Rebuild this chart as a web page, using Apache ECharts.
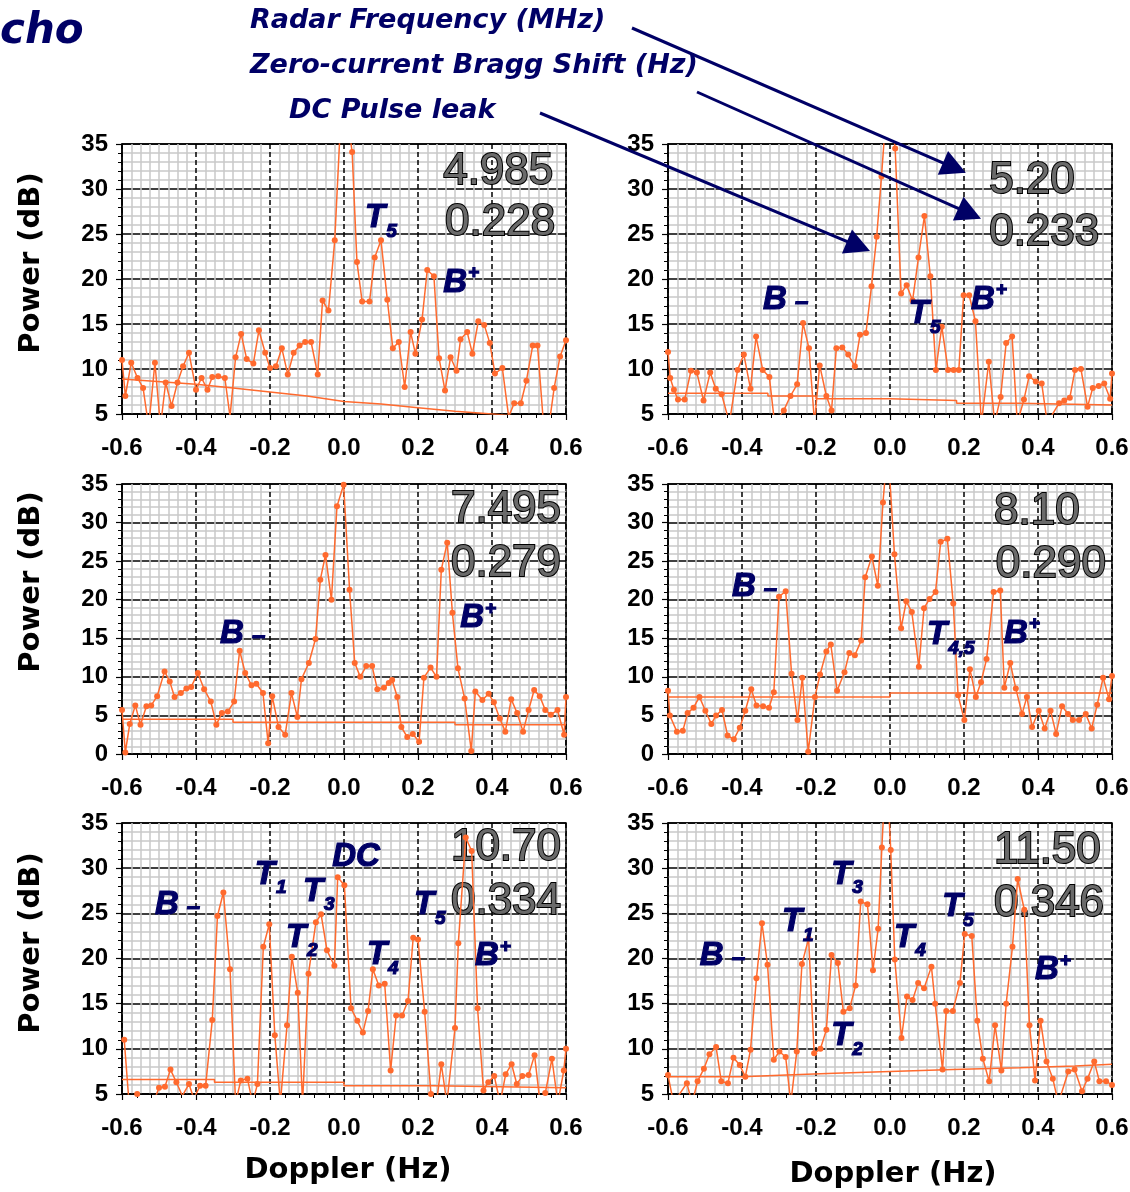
<!DOCTYPE html>
<html>
<head>
<meta charset="utf-8">
<title>Doppler spectra</title>
<script src="https://cdn.jsdelivr.net/npm/echarts@6.0.0/dist/echarts.min.js"></script>
<style>
  html, body { margin: 0; padding: 0; background: #fff; }
  #chart { width: 1130px; height: 1192px; }
</style>
</head>
<body>
<div id="chart"></div>
<script>
// ---------- data: Doppler (Hz) / power (dB) pairs for each radar frequency ----------
const spec4985 = [[-0.600,11.0],[-0.591,7.0],[-0.575,10.7],[-0.558,9.0],[-0.543,7.9],[-0.528,3.6],[-0.511,10.7],[-0.496,3.6],[-0.482,8.5],[-0.466,5.9],[-0.450,8.5],[-0.435,10.3],[-0.419,11.8],[-0.400,7.7],[-0.385,9.0],[-0.369,7.7],[-0.356,9.1],[-0.340,9.2],[-0.322,9.0],[-0.308,4.7],[-0.293,11.3],[-0.278,13.9],[-0.263,11.1],[-0.245,10.6],[-0.230,14.3],[-0.213,11.8],[-0.200,10.1],[-0.184,10.3],[-0.168,12.3],[-0.152,9.4],[-0.136,11.8],[-0.120,12.6],[-0.105,13.0],[-0.089,13.0],[-0.071,9.4],[-0.058,17.6],[-0.042,16.5],[-0.025,24.3],[-0.004,42.0],[0.022,34.1],[0.035,21.9],[0.049,17.5],[0.069,17.5],[0.083,22.4],[0.100,24.3],[0.117,17.7],[0.132,12.3],[0.148,13.0],[0.164,8.0],[0.180,14.1],[0.193,11.7],[0.211,15.5],[0.225,21.0],[0.243,20.3],[0.257,11.2],[0.273,7.6],[0.288,11.3],[0.304,9.8],[0.315,13.3],[0.333,14.1],[0.347,11.7],[0.363,15.3],[0.379,14.9],[0.394,12.9],[0.408,9.5],[0.428,10.1],[0.445,4.7],[0.460,6.2],[0.478,6.2],[0.493,8.7],[0.510,12.6],[0.523,12.6],[0.539,4.0],[0.555,4.0],[0.568,7.9],[0.584,11.4],[0.600,13.2]];
const floor4985 = [[-0.6,8.9],[-0.4,8.3],[-0.3,7.9],[-0.1,7.0],[0.0,6.4],[0.1,6.1],[0.2,5.7],[0.3,5.3],[0.4,5.0],[0.6,4.3]];

const spec520 = [[-0.600,11.9],[-0.594,9.0],[-0.584,7.7],[-0.573,6.6],[-0.555,6.6],[-0.538,9.8],[-0.522,9.6],[-0.504,6.5],[-0.486,9.6],[-0.471,7.8],[-0.455,7.2],[-0.434,4.0],[-0.412,9.9],[-0.395,11.6],[-0.377,7.8],[-0.362,13.6],[-0.344,9.9],[-0.326,9.1],[-0.312,4.0],[-0.287,5.4],[-0.269,7.0],[-0.251,8.3],[-0.235,15.1],[-0.219,12.3],[-0.204,4.0],[-0.190,10.4],[-0.172,7.0],[-0.158,5.4],[-0.145,12.3],[-0.129,12.4],[-0.113,11.6],[-0.095,10.3],[-0.081,13.8],[-0.065,14.0],[-0.050,19.2],[-0.036,24.7],[-0.023,31.4],[-0.006,41.0],[0.014,34.5],[0.030,18.4],[0.045,19.3],[0.061,17.6],[0.077,22.4],[0.093,27.0],[0.109,20.3],[0.124,9.9],[0.140,14.7],[0.157,9.9],[0.172,9.9],[0.186,9.9],[0.199,18.2],[0.214,18.2],[0.231,15.3],[0.247,4.0],[0.267,10.8],[0.283,4.0],[0.299,6.9],[0.314,12.9],[0.330,13.6],[0.344,4.0],[0.362,6.6],[0.376,9.2],[0.394,8.6],[0.410,8.4],[0.425,4.0],[0.457,6.2],[0.471,6.5],[0.486,6.8],[0.500,9.9],[0.516,10.0],[0.534,5.8],[0.548,7.9],[0.564,8.1],[0.579,8.4],[0.595,6.7],[0.600,9.5]];
const floor520 = [[-0.6,7.3],[-0.33,7.3],[-0.33,7.0],[-0.2,7.0],[-0.2,6.7],[0.0,6.7],[0.0,6.5],[0.18,6.5],[0.18,6.2],[0.35,6.2],[0.35,6.0],[0.6,6.0]];

const spec7495 = [[-0.600,5.7],[-0.591,0.2],[-0.579,3.9],[-0.564,6.3],[-0.550,3.8],[-0.534,6.2],[-0.521,6.3],[-0.505,7.5],[-0.485,10.7],[-0.471,9.4],[-0.458,7.4],[-0.441,7.9],[-0.426,8.5],[-0.413,8.7],[-0.395,10.5],[-0.378,8.4],[-0.360,6.8],[-0.345,3.8],[-0.330,5.3],[-0.314,5.5],[-0.297,6.8],[-0.282,13.4],[-0.267,10.5],[-0.250,8.9],[-0.237,9.1],[-0.219,7.9],[-0.205,1.4],[-0.194,7.5],[-0.177,3.5],[-0.159,2.5],[-0.142,7.9],[-0.126,4.8],[-0.115,9.7],[-0.095,11.8],[-0.077,14.9],[-0.064,22.6],[-0.050,25.8],[-0.034,20.0],[-0.019,32.1],[-0.001,34.9],[0.015,21.3],[0.029,11.8],[0.044,10.0],[0.060,11.4],[0.076,11.4],[0.090,8.4],[0.108,8.6],[0.121,9.2],[0.130,9.6],[0.144,7.4],[0.155,3.5],[0.171,2.2],[0.186,2.6],[0.203,1.6],[0.216,9.9],[0.234,11.2],[0.250,10.0],[0.263,23.9],[0.279,27.4],[0.293,18.3],[0.308,11.1],[0.326,7.2],[0.344,0.4],[0.355,8.1],[0.374,7.0],[0.391,7.8],[0.405,6.7],[0.421,4.6],[0.436,2.9],[0.452,7.1],[0.468,5.3],[0.484,2.9],[0.499,5.7],[0.514,8.3],[0.529,7.5],[0.544,5.7],[0.559,5.1],[0.577,5.7],[0.595,2.5],[0.600,7.4]];
const floor7495 = [[-0.6,4.5],[-0.3,4.5],[-0.3,4.1],[0.3,4.1],[0.3,3.8],[0.6,3.8]];

const spec810 = [[-0.600,8.2],[-0.595,5.0],[-0.576,2.9],[-0.560,3.0],[-0.547,5.3],[-0.531,6.0],[-0.515,7.4],[-0.499,5.6],[-0.483,3.9],[-0.470,5.0],[-0.454,5.7],[-0.439,2.4],[-0.422,1.9],[-0.406,3.4],[-0.391,5.6],[-0.375,8.4],[-0.361,6.3],[-0.343,6.2],[-0.327,6.0],[-0.314,8.0],[-0.300,20.4],[-0.282,21.1],[-0.266,10.4],[-0.250,4.4],[-0.237,9.9],[-0.221,0.3],[-0.203,7.4],[-0.189,10.3],[-0.172,13.3],[-0.160,14.2],[-0.143,8.2],[-0.123,10.6],[-0.110,13.1],[-0.095,12.8],[-0.078,14.7],[-0.067,22.9],[-0.049,25.6],[-0.033,21.8],[-0.019,32.6],[-0.006,40.0],[0.012,25.9],[0.030,16.3],[0.044,19.8],[0.059,18.4],[0.078,11.3],[0.092,18.9],[0.107,20.1],[0.123,21.0],[0.137,27.5],[0.155,27.9],[0.171,19.5],[0.184,7.6],[0.201,4.4],[0.216,11.0],[0.232,7.4],[0.246,9.3],[0.261,12.3],[0.280,21.0],[0.298,21.2],[0.309,8.6],[0.325,11.8],[0.340,8.5],[0.357,5.2],[0.370,7.4],[0.384,3.5],[0.402,5.6],[0.418,3.3],[0.434,5.6],[0.449,2.6],[0.465,6.2],[0.481,5.2],[0.494,4.4],[0.511,4.4],[0.529,5.2],[0.545,3.3],[0.560,6.4],[0.576,9.9],[0.592,7.1],[0.600,10.1]];
const floor810 = [[-0.6,7.4],[0.0,7.4],[0.0,7.9],[0.6,7.9]];

const spec1070 = [[-0.594,11.0],[-0.580,3.5],[-0.559,5.0],[-0.540,3.5],[-0.520,3.5],[-0.500,5.7],[-0.484,5.8],[-0.469,7.7],[-0.453,6.3],[-0.437,4.8],[-0.419,6.1],[-0.406,4.5],[-0.389,5.9],[-0.374,5.9],[-0.356,13.2],[-0.342,24.7],[-0.326,27.3],[-0.308,18.8],[-0.293,4.0],[-0.279,6.5],[-0.261,6.7],[-0.247,4.0],[-0.234,6.1],[-0.218,21.3],[-0.202,23.8],[-0.187,11.5],[-0.172,4.0],[-0.154,12.6],[-0.141,20.2],[-0.125,16.2],[-0.112,4.0],[-0.096,18.3],[-0.076,24.0],[-0.062,24.9],[-0.046,20.9],[-0.026,19.2],[-0.017,29.0],[0.001,28.1],[0.019,14.5],[0.036,13.1],[0.051,11.8],[0.065,14.2],[0.078,18.8],[0.094,17.0],[0.110,17.2],[0.126,7.6],[0.141,13.7],[0.157,13.7],[0.173,15.3],[0.187,22.3],[0.200,22.1],[0.218,14.1],[0.235,5.0],[0.250,4.0],[0.263,8.3],[0.278,4.0],[0.300,12.3],[0.309,21.7],[0.329,33.4],[0.345,31.9],[0.361,14.5],[0.377,5.4],[0.390,6.3],[0.406,7.0],[0.422,4.0],[0.437,7.2],[0.453,8.3],[0.467,6.1],[0.482,7.0],[0.499,7.1],[0.515,9.3],[0.530,4.0],[0.544,5.1],[0.562,8.9],[0.578,4.0],[0.594,7.6],[0.600,10.0]];
const floor1070 = [[-0.6,6.6],[-0.35,6.6],[-0.35,6.3],[0.0,6.3],[0.0,5.9],[0.24,5.9],[0.24,5.7],[0.6,5.7]];

const spec1150 = [[-0.600,7.1],[-0.585,4.0],[-0.549,6.2],[-0.535,4.0],[-0.520,6.4],[-0.503,7.8],[-0.488,9.4],[-0.470,10.2],[-0.456,6.4],[-0.438,6.2],[-0.423,9.0],[-0.406,8.2],[-0.391,6.9],[-0.377,9.9],[-0.361,17.8],[-0.346,23.9],[-0.331,19.3],[-0.314,8.8],[-0.299,9.7],[-0.282,9.1],[-0.268,4.0],[-0.252,9.7],[-0.238,19.4],[-0.220,22.2],[-0.205,9.5],[-0.188,10.0],[-0.172,12.1],[-0.158,20.4],[-0.141,19.5],[-0.126,14.1],[-0.109,14.5],[-0.093,17.0],[-0.079,26.3],[-0.061,26.0],[-0.046,18.7],[-0.032,23.3],[-0.022,32.3],[-0.010,42.0],[0.002,32.0],[0.013,19.9],[0.031,11.2],[0.046,15.8],[0.061,15.4],[0.076,17.3],[0.092,16.7],[0.112,19.1],[0.122,15.0],[0.142,7.7],[0.152,14.2],[0.170,14.2],[0.189,17.3],[0.202,22.7],[0.221,22.5],[0.236,13.1],[0.251,8.9],[0.268,6.4],[0.284,12.6],[0.301,7.6],[0.314,15.0],[0.331,21.3],[0.345,28.8],[0.363,25.4],[0.377,12.6],[0.392,6.5],[0.407,13.1],[0.423,8.6],[0.440,6.7],[0.455,4.0],[0.482,7.5],[0.499,7.7],[0.519,5.3],[0.534,6.7],[0.552,8.6],[0.566,6.4],[0.584,6.4],[0.600,6.0]];
const floor1150 = [[-0.6,6.9],[-0.4,6.9],[-0.4,7.1],[-0.28,7.1],[-0.28,7.3],[-0.15,7.3],[-0.15,7.5],[0.0,7.5],[0.0,7.7],[0.17,7.7],[0.17,7.9],[0.35,7.9],[0.35,8.1],[0.5,8.1],[0.5,8.3],[0.6,8.3]];

// radar frequency (MHz) and zero-current Bragg shift (Hz) printed in each panel
const radarMHz = ['4.985', '5.20', '7.495', '8.10', '10.70', '11.50'];
const braggHz  = ['0.228', '0.233', '0.279', '0.290', '0.334', '0.346'];

// peak tags per panel
const tags4985 = ['T5', 'B+'];
const tags520  = ['B-', 'T5', 'B+'];
const tags7495 = ['B-', 'B+'];
const tags810  = ['B-', 'T4,5', 'B+'];
const tags1070 = ['B-', 'T1', 'DC', 'T3', 'T2', 'T4', 'T5', 'B+'];
const tags1150 = ['B-', 'T1', 'T2', 'T3', 'T4', 'T5', 'B+'];

// axis ticks
const dopplerTicks = { min: -0.6, max: 0.6, step: 0.2 };
const powerTop = 35, powerStep = 5;
const powerBottoms = [5, 5, 0, 0, 5, 5];

// ---------- layout ----------
const NAVY = '#000066';
const ORANGE = '#ff6a2e';
const GRAY = '#c9c9c9';
const colLeft = [122, 668];
const rowBox = [{ top: 144, height: 270 }, { top: 484, height: 270 }, { top: 823, height: 271 }];
const plotWidth = 444;

// where each tag / printed number sits, in Doppler–power units of its panel
const tagAt = [
  [[0.057, 26.8], [0.268, 19.6]],
  [[-0.343, 17.7], [0.051, 16.1], [0.219, 17.7]],
  [[-0.335, 15.6], [0.314, 17.6]],
  [[-0.427, 21.7], [0.100, 15.4], [0.308, 15.6]],
  [[-0.511, 25.9], [-0.241, 29.3], [-0.032, 31.3], [-0.111, 27.4], [-0.157, 22.3], [0.062, 20.4], [0.189, 25.9], [0.354, 20.3]],
  [[-0.514, 20.3], [-0.292, 24.0], [-0.159, 11.4], [-0.159, 29.3], [0.011, 22.3], [0.141, 25.7], [0.392, 18.7]]
];
const numberAt = [
  [[0.268, 31.9], [0.273, 26.2]],
  [[0.268, 30.9], [0.268, 25.1]],
  [[0.289, 31.6], [0.289, 24.7]],
  [[0.281, 31.4], [0.286, 24.5]],
  [[0.289, 32.2], [0.289, 26.3]],
  [[0.281, 31.9], [0.281, 26.1]]
];

const spectra = [spec4985, spec520, spec7495, spec810, spec1070, spec1150];
const floors = [floor4985, floor520, floor7495, floor810, floor1070, floor1150];
const tags = [tags4985, tags520, tags7495, tags810, tags1070, tags1150];

// tag text -> rich string: letter with subscript / superscript / trailing dash
function richTag(t) {
  if (t === 'DC') return '{m|DC}';
  if (t === 'B+') return '{m|B}{sup|+}';
  if (t === 'B-') return '{m|B}{dash|–}';
  return '{m|' + t.charAt(0) + '}{sub|' + t.slice(1) + '}';
}

// heavy italic navy lettering (a thin same-colour outline thickens the strokes)
const tagFont = { fontFamily: 'Liberation Sans', fontWeight: 'bold', fontStyle: 'italic', color: NAVY,
  textBorderColor: NAVY, textBorderWidth: 1.2 };
const tagRich = {
  m:    Object.assign({ fontSize: 33, lineHeight: 38 }, tagFont),
  sub:  Object.assign({ fontSize: 19, lineHeight: 19, padding: [27, 0, 0, 1] }, tagFont),
  sup:  Object.assign({ fontSize: 19, lineHeight: 19, padding: [0, 0, 19, 1] }, tagFont),
  dash: Object.assign({ fontSize: 24, lineHeight: 24, padding: [5, 0, 0, 8] }, tagFont)
};

const tickFont = { fontFamily: 'Liberation Sans', fontWeight: 'bold', fontSize: 24, color: '#000' };

const grids = [], xAxes = [], yAxes = [], series = [];
for (let i = 0; i < 6; i++) {
  const col = i % 2, row = Math.floor(i / 2);
  grids.push({
    left: colLeft[col], top: rowBox[row].top, width: plotWidth, height: rowBox[row].height,
    containLabel: false, outerBoundsMode: 'none',
    show: true, backgroundColor: '#fff', borderColor: '#000', borderWidth: 1.5
  });
  // x axis carrying labels, major dashed lines and the fine grid
  xAxes.push({
    type: 'value', gridIndex: i, position: 'bottom',
    min: dopplerTicks.min, max: dopplerTicks.max, interval: dopplerTicks.step,
    axisLine: { show: true, onZero: false, lineStyle: { color: '#000', width: 1.5 } },
    axisTick: { show: false },
    minorTick: { show: false, splitNumber: 8 },
    minorSplitLine: { show: true, lineStyle: { color: GRAY, width: 1.5 } },
    splitLine: { show: true, lineStyle: { color: '#000', width: 1.5, type: [5, 3] } },
    axisLabel: Object.assign({ margin: 22, showMinLabel: true, showMaxLabel: true,
      formatter: v => v.toFixed(1) }, tickFont)
  });
  // companion x axis carrying only the tick marks
  xAxes.push({
    type: 'value', gridIndex: i, position: 'bottom',
    min: dopplerTicks.min, max: dopplerTicks.max, interval: dopplerTicks.step,
    axisLine: { show: false, onZero: false },
    axisTick: { show: true, length: 6, lineStyle: { color: '#000', width: 1.2 } },
    minorTick: { show: true, splitNumber: 5, length: 4, lineStyle: { color: '#000', width: 1 } },
    splitLine: { show: false }, axisLabel: { show: false }
  });
  yAxes.push({
    type: 'value', gridIndex: i,
    min: powerBottoms[i], max: powerTop, interval: powerStep,
    axisLine: { show: true, onZero: false, lineStyle: { color: '#000', width: 1.5 } },
    axisTick: { show: true, length: 6, lineStyle: { color: '#000', width: 1.2 } },
    minorTick: { show: true, splitNumber: 5, length: 4, lineStyle: { color: '#000', width: 1 } },
    minorSplitLine: { show: true, lineStyle: { color: GRAY, width: 1.5 } },
    splitLine: { show: true, lineStyle: { color: '#000', width: 1.5 } },
    axisLabel: Object.assign({ margin: 14, showMinLabel: true, showMaxLabel: true }, tickFont)
  });

  series.push({
    type: 'line', name: radarMHz[i] + ' MHz', xAxisIndex: 2 * i, yAxisIndex: i,
    data: spectra[i], clip: true, showAllSymbol: true,
    symbol: 'circle', symbolSize: 6,
    lineStyle: { color: ORANGE, width: 1.5 }, itemStyle: { color: ORANGE },
    z: 3, silent: true
  });
  series.push({
    type: 'line', name: 'floor ' + radarMHz[i], xAxisIndex: 2 * i, yAxisIndex: i,
    data: floors[i], clip: true, symbol: 'none',
    lineStyle: { color: ORANGE, width: 1.5 }, z: 2, silent: true
  });
  series.push({
    type: 'scatter', xAxisIndex: 2 * i, yAxisIndex: i,
    data: tags[i].map((t, k) => [tagAt[i][k][0], tagAt[i][k][1], richTag(t)]),
    symbol: 'circle', symbolSize: 0, itemStyle: { color: 'rgba(0,0,0,0)', opacity: 1 },
    label: { show: true, opacity: 1, position: 'right', distance: 0, formatter: p => p.value[2], rich: tagRich },
    z: 5, silent: true
  });
  series.push({
    type: 'scatter', xAxisIndex: 2 * i, yAxisIndex: i,
    data: [[numberAt[i][0][0], numberAt[i][0][1], radarMHz[i]], [numberAt[i][1][0], numberAt[i][1][1], braggHz[i]]],
    symbol: 'circle', symbolSize: 0, itemStyle: { color: 'rgba(0,0,0,0)', opacity: 1 },
    label: {
      show: true, opacity: 1, position: 'right', distance: 0, formatter: p => p.value[2],
      fontFamily: 'Liberation Sans', fontSize: 44, color: '#6a6a6a',
      textBorderColor: '#000', textBorderWidth: 2
    },
    z: 1, silent: true
  });
}

const chart = echarts.init(document.getElementById('chart'), null, { renderer: 'canvas' });
chart.setOption({
  animation: false,
  backgroundColor: '#fff',
  grid: grids, xAxis: xAxes, yAxis: yAxes, series: series
});

// ---------- titles, header notes and arrows ----------
const headFont = { fontFamily: 'DejaVu Sans', fontWeight: 'bold', fontStyle: 'italic', fill: NAVY };
const axisTitleFont = { fontFamily: 'DejaVu Sans', fontWeight: 'bold', fontSize: 29, fill: '#000' };

function headText(id, text, x, y, size) {
  return { type: 'text', id, z: 100, x, y,
    style: Object.assign({ text, fontSize: size, align: 'left', verticalAlign: 'middle' }, headFont) };
}
function arrow(id, from, to) {
  const dx = to[0] - from[0], dy = to[1] - from[1], L = Math.hypot(dx, dy);
  const ux = dx / L, uy = dy / L, hl = 25, hw = 13;
  const bx = to[0] - ux * hl, by = to[1] - uy * hl;
  return [
    { type: 'line', id: id + '-shaft', z: 100, silent: true,
      shape: { x1: from[0], y1: from[1], x2: bx + ux * 3, y2: by + uy * 3 },
      style: { stroke: NAVY, lineWidth: 3 } },
    { type: 'polygon', id: id + '-head', z: 100, silent: true,
      shape: { points: [[to[0], to[1]], [bx - uy * hw, by + ux * hw], [bx + uy * hw, by - ux * hw]] },
      style: { fill: NAVY } }
  ];
}

// arrows point into the 5.20 MHz panel (series 4 is its spectrum)
const tipFreq  = chart.convertToPixel({ seriesIndex: 4 }, [0.205, 31.8]);
const tipBragg = chart.convertToPixel({ seriesIndex: 4 }, [0.246, 26.7]);
const tipDC    = chart.convertToPixel({ seriesIndex: 4 }, [-0.054, 23.1]);

const graphics = [
  headText('cho', 'cho', 0, 32, 42),
  headText('h1', 'Radar Frequency (MHz)', 250, 21, 27),
  headText('h2', 'Zero-current Bragg Shift (Hz)', 250, 66, 27),
  headText('h3', 'DC Pulse leak', 289, 111, 27),
  ...arrow('a1', [632, 28], tipFreq),
  ...arrow('a2', [697, 92], tipBragg),
  ...arrow('a3', [540, 113], tipDC)
];
[263, 582, 943].forEach((y, k) => graphics.push({
  type: 'text', id: 'ytitle' + k, x: 31, y, rotation: Math.PI / 2, z: 100,
  style: Object.assign({ text: 'Power (dB)', align: 'center', verticalAlign: 'middle' }, axisTitleFont)
}));
[[348, 1170], [893, 1174]].forEach((p, k) => graphics.push({
  type: 'text', id: 'xtitle' + k, x: p[0], y: p[1], z: 100,
  style: Object.assign({ text: 'Doppler (Hz)', align: 'center', verticalAlign: 'middle' }, axisTitleFont)
}));

chart.setOption({ graphic: graphics });
</script>
</body>
</html>
